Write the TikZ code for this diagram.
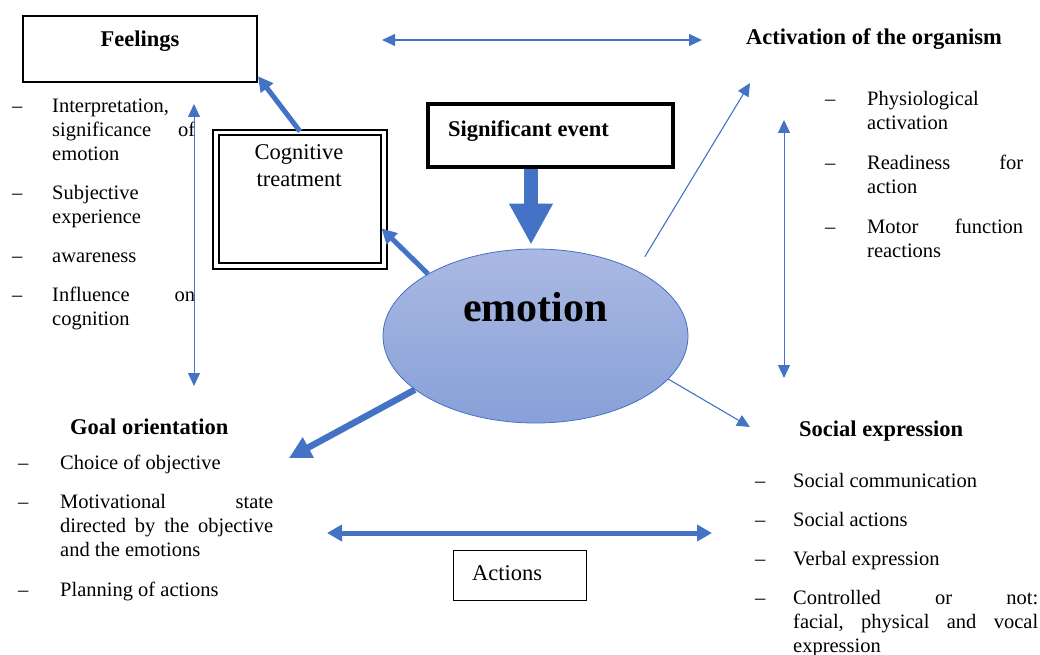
\documentclass[tikz,border=0pt]{standalone}
\usepackage{fontspec}
\setmainfont{Liberation Serif}
\usepackage{tikz}
\usetikzlibrary{arrows.meta,shapes,positioning}
\definecolor{emblue}{RGB}{68,114,196}
\definecolor{emtop}{RGB}{170,185,226}
\definecolor{embottom}{RGB}{136,160,216}
\tikzstyle{thinarrow} = [line width=1.1pt, color=emblue, -{Triangle[length=13pt,width=12pt]}]
\tikzstyle{thinboth} = [line width=1.2pt, color=emblue, {Triangle[length=13pt,width=12pt]}-{Triangle[length=13pt,width=12pt]}]
\tikzstyle{thickarrow} = [line width=5pt, color=emblue, -{Triangle[length=15pt,width=15pt]}]
\tikzstyle{thickboth} = [line width=5pt, color=emblue, {Triangle[length=15pt,width=16pt]}-{Triangle[length=15pt,width=16pt]}]
\tikzstyle{widearrow} = [line width=6.5pt, color=emblue, -{Triangle[length=22pt,width=22pt]}]
\tikzstyle{bigarrow} = [line width=14pt, color=emblue, -{Triangle[length=41pt,width=41pt]}]
\tikzstyle{plainbox} = [rectangle, draw=black, inner sep=0pt]
\tikzstyle{txt} = [inner sep=0pt, anchor=base west]
\newcommand{\listfont}{\fontsize{20.5}{24}\selectfont}
\newcommand{\headfont}{\fontsize{22.5}{27}\selectfont\bfseries}
\newcommand{\dashitem}[2]{\hangindent=#1\hangafter=1\noindent\makebox[#1][l]{–}#2\par}

\begin{document}
\begin{tikzpicture}[x=1pt,y=-1pt]
\useasboundingbox (0,0) rectangle (1040,655);

% Boxes
\node[plainbox, line width=2pt, minimum width=234pt, minimum height=66pt] (feel) at (140,49) {};
\node[plainbox, line width=4.5pt, minimum width=245pt, minimum height=63pt] (event) at (550.5,135.5) {};
\node[plainbox, line width=2.2pt, double, double distance=3.2pt, minimum width=168pt, minimum height=133.5pt] (cogn) at (300,199.25) {};
\node[plainbox, line width=1pt, minimum width=133pt, minimum height=50pt] (actbox) at (520,575.5) {};
\node[ellipse, draw=emblue, line width=0.8pt, top color=emtop, bottom color=embottom, minimum width=305pt, minimum height=174pt, inner sep=0pt] (emotion) at (535.5,336) {};

% Titles
\node[txt, anchor=base] (feeltxt) at (140,47) {\headfont Feelings};
\node[txt] (eventtxt) at (448,137) {\headfont Significant event};
\node[txt, anchor=base] (cogntxt) at (299,160) {\parbox[t]{160pt}{\centering\fontsize{22.5}{27}\selectfont Cognitive\\treatment}};
\node[txt] (actionstxt) at (472,580) {\fontsize{22.5}{27}\selectfont Actions};
\node[txt] (emotxt) at (463,321) {\fontsize{42}{48}\selectfont\bfseries emotion};
\node[txt] (activtxt) at (746,45) {\headfont Activation of the organism};
\node[txt] (goaltxt) at (70,434) {\headfont Goal orientation};
\node[txt] (soctxt) at (799,436) {\headfont Social expression};

% Lists
\node[txt] (feellist) at (12,113) {\parbox[t]{183pt}{\listfont\setlength{\parskip}{15pt}%
\dashitem{40pt}{Interpretation,\newline significance\hfill of\newline emotion}%
\dashitem{40pt}{Subjective\newline experience}%
\dashitem{40pt}{awareness}%
\dashitem{40pt}{Influence\hfill on\newline cognition}}};
\node[txt] (activlist) at (825,106) {\parbox[t]{198pt}{\listfont\setlength{\parskip}{16pt}%
\dashitem{42pt}{Physiological\newline activation}%
\dashitem{42pt}{Readiness\hfill for\newline action}%
\dashitem{42pt}{Motor\hfill function\newline reactions}}};
\node[txt] (goallist) at (18,469) {\parbox[t]{255pt}{\listfont\setlength{\parskip}{15.5pt}%
\dashitem{42pt}{Choice of objective}%
\dashitem{42pt}{Motivational\hfill state\newline directed\hfill by\hfill the\hfill objective\newline and the emotions}%
\dashitem{42pt}{Planning of actions}}};
\node[txt] (soclist) at (755,487) {\parbox[t]{283pt}{\listfont\setlength{\parskip}{15pt}%
\dashitem{38pt}{Social communication}%
\dashitem{38pt}{Social actions}%
\dashitem{38pt}{Verbal expression}%
\dashitem{38pt}{Controlled\hfill or\hfill not:\newline facial,\hfill physical\hfill and\hfill vocal\newline expression}}};

% Free arrow ends
\coordinate (topl) at (382,40);
\coordinate (topr) at (702,40);
\coordinate (activpt) at (750,83);
\coordinate (lefttop) at (194,104);
\coordinate (leftbot) at (194,386);
\coordinate (righttop) at (784,120);
\coordinate (rightbot) at (784,378);
\coordinate (socpt) at (750,427);
\coordinate (goalpt) at (289,458);
\coordinate (actl) at (327,533);
\coordinate (actr) at (712,533);

% Arrows
\draw[bigarrow] ([xshift=-19.5pt]event.south) -- ([xshift=-4.5pt,yshift=4pt]emotion.north);
\draw[thickarrow] (cogn.north) -- (feel.-13);
\draw[thickarrow, shorten >=-5pt] (emotion.150) -- (cogn.-21);
\draw[widearrow] (emotion.204) -- (goalpt);
\draw[thinarrow, shorten <=16pt] (emotion.33) -- (activpt);
\draw[thinarrow] (emotion.-18) -- (socpt);
\draw[thinboth] (topl) -- (topr);
\draw[thinboth, line width=1pt] (lefttop) -- (leftbot);
\draw[thinboth, line width=1pt] (righttop) -- (rightbot);
\draw[thickboth] (actl) -- (actr);
\end{tikzpicture}
\end{document}
